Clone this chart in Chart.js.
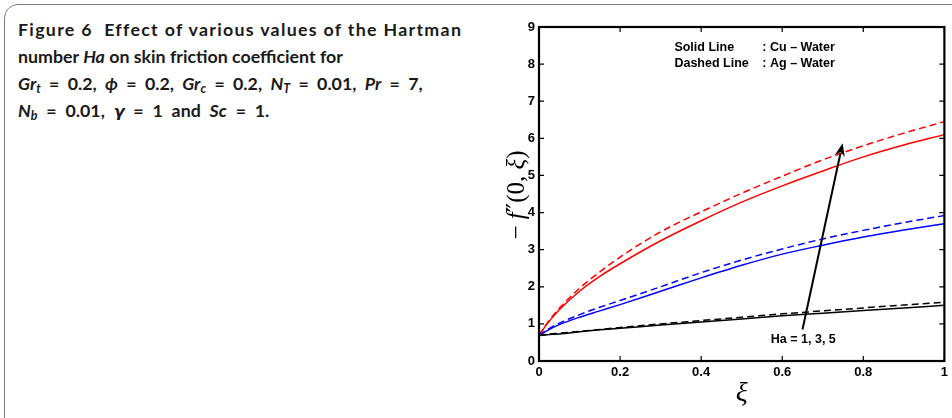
<!DOCTYPE html>
<html>
<head>
<meta charset="utf-8">
<script src="https://cdn.jsdelivr.net/npm/chart.js@4.4.1/dist/chart.umd.min.js"></script>
<style>
  html, body { margin: 0; padding: 0; background: #fff; }
  body { width: 952px; height: 418px; position: relative; overflow: hidden; }
  .frame {
    position: absolute; left: 4px; top: 4px; width: 990px; height: 430px;
    border: 1.5px solid #7f7f7f; border-radius: 14px; box-sizing: border-box;
  }
  .cap {
    position: absolute; left: 18px; top: 16px;
    font-family: Lato, "Open Sans", sans-serif; font-weight: bold;
    font-size: 17.8px; line-height: 27px; color: #1a1a1a; white-space: nowrap;
  }
  .cap div { height: 27px; }
  .cap .l1 { letter-spacing: 1.3px; }
  .cap .l3 { word-spacing: 4px; }
  .cap .l4 { word-spacing: 4.5px; }
  .cap sub { font-size: 12.5px; vertical-align: -3px; line-height: 0; }
  .cap .g { font-family: "DejaVu Sans", sans-serif; font-size: 16px; }
  #wrap { position: absolute; left: 0; top: 0; width: 952px; height: 418px; }
</style>
</head>
<body>
<div class="frame"></div>
<div class="cap">
  <div class="l1">Figure 6&nbsp; Effect of various values of the Hartman</div>
  <div class="l2">number <i>Ha</i> on skin friction coefficient for</div>
  <div class="l3"><i>Gr<sub>t</sub></i> = 0.2, <i>ϕ</i> = 0.2, <i>Gr<sub>c</sub></i> = 0.2, <i>N<sub>T</sub></i> = 0.01, <i>Pr</i> = 7,</div>
  <div class="l4"><i>N<sub>b</sub></i> = 0.01, <i class="g">γ</i> = 1 and <i>Sc</i> = 1.</div>
</div>
<div id="wrap"><canvas id="skin" width="952" height="418"></canvas></div>
<script>
// xi positions shared by all curves
const xi = [0, 0.02, 0.05, 0.1, 0.15, 0.2, 0.3, 0.4, 0.5, 0.6, 0.7, 0.8, 0.9, 1];

// Cu - Water (solid lines)
const cuHa1 = [0.69, 0.71, 0.73, 0.79, 0.84, 0.88, 0.97, 1.05, 1.13, 1.22, 1.29, 1.36, 1.43, 1.50];
const cuHa3 = [0.69, 0.82, 0.98, 1.18, 1.35, 1.52, 1.88, 2.24, 2.58, 2.88, 3.12, 3.34, 3.53, 3.70];
const cuHa5 = [0.69, 1.00, 1.38, 1.88, 2.28, 2.62, 3.24, 3.78, 4.28, 4.72, 5.12, 5.50, 5.82, 6.10];

// Ag - Water (dashed lines)
const agHa1 = [0.69, 0.72, 0.75, 0.80, 0.85, 0.90, 1.00, 1.09, 1.18, 1.27, 1.35, 1.43, 1.51, 1.58];
const agHa3 = [0.69, 0.84, 1.02, 1.25, 1.45, 1.63, 2.00, 2.38, 2.72, 3.02, 3.29, 3.52, 3.73, 3.92];
const agHa5 = [0.69, 1.02, 1.42, 1.96, 2.40, 2.80, 3.48, 4.02, 4.52, 4.98, 5.42, 5.80, 6.14, 6.45];

const xTickLabels = ['0', '0.2', '0.4', '0.6', '0.8', '1'];
const yTickLabels = ['0', '1', '2', '3', '4', '5', '6', '7', '8', '9'];

const legendRows = [['Solid Line', ': Cu \u2013 Water'], ['Dashed Line', ': Ag \u2013 Water']];
const haLabel = 'Ha = 1, 3, 5';
// arrow tail and head in data units
const arrowFrom = { x: 0.65, y: 0.85 };
const arrowTo = { x: 0.749, y: 5.87 };

const sans = '"Liberation Sans", Arial, sans-serif';
const serif = '"Liberation Serif", "Times New Roman", serif';

function pts(arr) {
  return xi.map((x, i) => ({ x: x, y: arr[i] }));
}

function line(arr, color, dashed) {
  return {
    data: pts(arr),
    borderColor: color,
    borderWidth: 1.5,
    borderDash: dashed ? [7, 4] : [],
    pointRadius: 0,
    fill: false,
    cubicInterpolationMode: 'monotone'
  };
}

// box, inward ticks, annotations and axis titles
const decor = {
  id: 'decor',
  afterDraw(chart) {
    const ctx = chart.ctx;
    const a = chart.chartArea;
    const sx = chart.scales.x, sy = chart.scales.y;
    ctx.save();
    ctx.strokeStyle = '#000';
    ctx.lineWidth = 1.2;
    ctx.beginPath();
    sx.ticks.forEach(t => {
      const px = sx.getPixelForValue(t.value);
      ctx.moveTo(px, a.bottom); ctx.lineTo(px, a.bottom - 5);
      ctx.moveTo(px, a.top); ctx.lineTo(px, a.top + 5);
    });
    sy.ticks.forEach(t => {
      const py = sy.getPixelForValue(t.value);
      ctx.moveTo(a.left, py); ctx.lineTo(a.left + 5, py);
      ctx.moveTo(a.right, py); ctx.lineTo(a.right - 5, py);
    });
    ctx.stroke();
    ctx.lineWidth = 2.2;
    ctx.strokeRect(a.left, a.top, a.right - a.left, a.bottom - a.top);

    // legend text
    ctx.fillStyle = '#000';
    ctx.font = 'bold 12.5px ' + sans;
    ctx.textBaseline = 'middle';
    ctx.textAlign = 'left';
    legendRows.forEach((r, i) => {
      const py = sy.getPixelForValue(8.44 - i * 0.43);
      ctx.fillText(r[0], sx.getPixelForValue(0.334), py);
      ctx.fillText(r[1], sx.getPixelForValue(0.551), py);
    });

    // arrow
    const x0 = sx.getPixelForValue(arrowFrom.x), y0 = sy.getPixelForValue(arrowFrom.y);
    const x1 = sx.getPixelForValue(arrowTo.x), y1 = sy.getPixelForValue(arrowTo.y);
    const ang = Math.atan2(y1 - y0, x1 - x0);
    const hl = 13, hw = 5;
    ctx.lineWidth = 2;
    ctx.beginPath();
    ctx.moveTo(x0, y0);
    ctx.lineTo(x1 - hl * 0.8 * Math.cos(ang), y1 - hl * 0.8 * Math.sin(ang));
    ctx.stroke();
    ctx.beginPath();
    ctx.moveTo(x1, y1);
    ctx.lineTo(x1 - hl * Math.cos(ang) + hw * Math.sin(ang), y1 - hl * Math.sin(ang) - hw * Math.cos(ang));
    ctx.lineTo(x1 - hl * 0.7 * Math.cos(ang), y1 - hl * 0.7 * Math.sin(ang));
    ctx.lineTo(x1 - hl * Math.cos(ang) - hw * Math.sin(ang), y1 - hl * Math.sin(ang) + hw * Math.cos(ang));
    ctx.closePath();
    ctx.fill();

    ctx.font = 'bold 12.5px ' + sans;
    ctx.textAlign = 'center';
    ctx.fillText(haLabel, sx.getPixelForValue(0.652), sy.getPixelForValue(0.58));

    // x title
    ctx.font = 'italic 28px ' + serif;
    ctx.textBaseline = 'middle';
    ctx.fillText('\u03be', (a.left + a.right) / 2, a.bottom + 33);

    // y title, mixed upright / italic pieces
    const parts = [
      ['\u2212 ', '', serif], ['f', 'italic ', serif], ['\u2033', '', '"DejaVu Serif", serif'],
      ['(0, ', '', serif], ['\u03be', 'italic ', serif], [')', '', serif]
    ];
    const size = 25;
    let total = 0;
    parts.forEach(p => { ctx.font = p[1] + size + 'px ' + p[2]; total += ctx.measureText(p[0]).width; });
    ctx.translate(517, 195);
    ctx.rotate(-Math.PI / 2);
    ctx.textAlign = 'left';
    ctx.textBaseline = 'middle';
    let cx = -total / 2;
    parts.forEach(p => {
      ctx.font = p[1] + size + 'px ' + p[2];
      ctx.fillText(p[0], cx, 0);
      cx += ctx.measureText(p[0]).width;
    });
    ctx.restore();
  }
};

new Chart(document.getElementById('skin').getContext('2d'), {
  type: 'line',
  data: {
    datasets: [
      line(cuHa1, '#000000', false),
      line(agHa1, '#000000', true),
      line(cuHa3, '#0000ff', false),
      line(agHa3, '#0000ff', true),
      line(cuHa5, '#ff0000', false),
      line(agHa5, '#ff0000', true)
    ]
  },
  options: {
    responsive: false,
    animation: false,
    layout: { padding: { left: 479, top: 27, right: 7, bottom: 7 } },
    plugins: { legend: { display: false }, tooltip: { enabled: false } },
    scales: {
      x: {
        type: 'linear', min: 0, max: 1,
        grid: { display: false, drawTicks: false },
        border: { display: false },
        afterFit: s => { s.height = 50; },
        ticks: {
          stepSize: 0.2, padding: 4, color: '#000',
          font: { family: sans, size: 13, weight: 'bold' },
          callback: (v, i) => xTickLabels[i]
        }
      },
      y: {
        min: 0, max: 9,
        grid: { display: false, drawTicks: false },
        border: { display: false },
        afterFit: s => { s.width = 60; },
        ticks: {
          stepSize: 1, padding: 4, color: '#000',
          font: { family: sans, size: 13, weight: 'bold' },
          callback: (v, i) => yTickLabels[i]
        }
      }
    }
  },
  plugins: [decor]
});
</script>
</body>
</html>
